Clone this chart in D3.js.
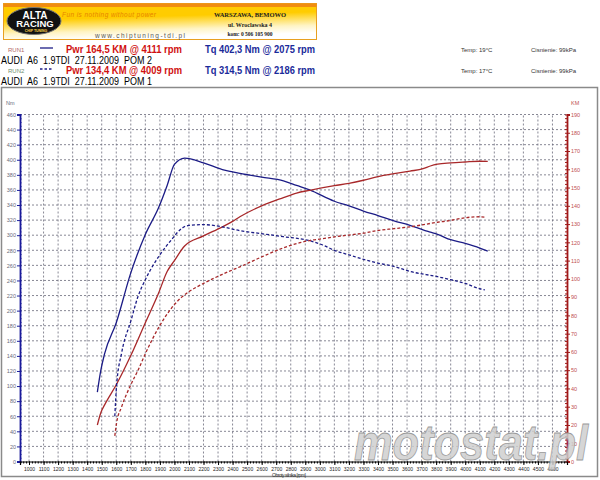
<!DOCTYPE html>
<html>
<head>
	<title>Hamownia AUDI A6 1.9TDI</title>
	<meta charset="utf-8">
	<script src="https://cdnjs.cloudflare.com/ajax/libs/d3/7.8.5/d3.min.js"></script>
	<style>
		body { margin: 0; background: #fff; }
		text { font-family: "Liberation Sans", Arial, sans-serif; white-space: pre; }
	</style>
</head>
<body>
	<script type="text/javascript">

		// RUN1 - POM 2 (solid)
		let rpm1 = [1470, 1495, 1520, 1600, 1700, 1800, 1890, 1950, 2000, 2070, 2200, 2330, 2400, 2450, 2600, 2750, 2840, 2930, 3100, 3200, 3300, 3400, 3510, 3620, 3710, 3760, 3810, 3900, 4000, 4100, 4155];
		let tq1 = [92, 122, 143, 184, 250, 301, 336, 366, 394, 402.3, 396, 387, 384, 382, 377, 372, 366, 360, 345, 339, 332, 326, 319, 313, 307, 304, 301, 294, 289, 283, 279];
		let pw1 = [20, 27, 31, 42, 58, 76, 92, 104, 110, 118, 123.5, 128.5, 131.5, 134, 140, 144.5, 147, 148.5, 151, 152.3, 154, 156, 157.6, 159, 160.3, 161.8, 162.8, 163.5, 164, 164.4, 164.3];

		// RUN2 - POM 1 (dashed)
		let rpm2 = [1590, 1602, 1637, 1700, 1750, 1800, 1900, 1980, 2050, 2100, 2200, 2330, 2450, 2600, 2750, 2930, 3020, 3100, 3200, 3300, 3400, 3510, 3620, 3810, 3900, 4000, 4100, 4135];
		let tq2 = [60, 100, 144, 186, 219, 241, 274, 294, 309, 313, 314, 311, 306, 302, 298, 292.7, 287, 280, 274, 268, 263, 258.6, 252, 245, 241, 236, 229, 227.5];
		let pw2 = [14, 21, 30, 42, 50, 59, 74.5, 84, 90, 93, 97.5, 102.5, 106.6, 112, 117, 121, 122, 123, 124, 125, 126.5, 127.5, 128.5, 131, 132, 133.5, 134, 133.8];

		// ticks
		let rpmTicks = d3.range(1000, 4601, 100);
		let nmTicks = d3.range(0, 461, 20);
		let kmTicks = d3.range(0, 191, 10);

		// header texts
		let runNames = ['RUN1', 'RUN2'];
		let pwrTexts = ['Pwr 164,5 KM @ 4111 rpm', 'Pwr 134,4 KM @ 4009 rpm'];
		let tqTexts = ['Tq 402,3 Nm @ 2075 rpm', 'Tq 314,5 Nm @ 2186 rpm'];
		let carTexts = ['AUDI  A6  1.9TDI  27.11.2009  POM 2', 'AUDI  A6  1.9TDI  27.11.2009  POM 1'];
		let tempTexts = ['Temp: 19\u00b0C', 'Temp: 17\u00b0C'];
		let pressTexts = ['Cisnienie: 99kPa', 'Cisnienie: 99kPa'];

		let blue = '#1c1c86';
		let red = '#a8282a';

		let svg = d3.select('body').append('svg');
		svg.attr('width', 600);
		svg.attr('height', 480);

		svg.append('rect').attr('width', 600).attr('height', 480).attr('fill', '#fff');

		// banner
		let defs = svg.append('defs');
		let grad = defs.append('linearGradient').attr('id', 'ban').attr('x1', 0).attr('y1', 0).attr('x2', 0.25).attr('y2', 1);
		grad.append('stop').attr('offset', '0%').attr('stop-color', '#ffcc00');
		grad.append('stop').attr('offset', '45%').attr('stop-color', '#ffcc00');
		grad.append('stop').attr('offset', '80%').attr('stop-color', '#fff4c4');
		grad.append('stop').attr('offset', '100%').attr('stop-color', '#ffffff');

		svg.append('rect').attr('x', 3.5).attr('y', 3.5).attr('width', 313).attr('height', 36)
			.attr('fill', 'url(#ban)').attr('stroke', '#e8a020').attr('stroke-width', 1);
		svg.append('rect').attr('x', 3.5).attr('y', 3.5).attr('width', 313).attr('height', 3.5)
			.attr('fill', '#f08c10');

		svg.append('ellipse').attr('cx', 34).attr('cy', 21).attr('rx', 27).attr('ry', 13.5)
			.attr('fill', '#111').attr('stroke', '#777').attr('stroke-width', 1);
		svg.append('text').attr('x', 35).attr('y', 18.5).attr('text-anchor', 'middle')
			.attr('font-size', 10).attr('font-weight', 'bold').attr('fill', '#fff').text('ALTA');
		svg.append('text').attr('x', 35).attr('y', 27).attr('text-anchor', 'middle')
			.attr('font-size', 9.5).attr('font-weight', 'bold').attr('fill', '#fff').text('RACING');
		svg.append('text').attr('x', 36).attr('y', 32).attr('text-anchor', 'middle')
			.attr('font-size', 3.5).attr('font-weight', 'bold').attr('fill', '#ffd24a').text('CHIP TUNING');

		svg.append('text').attr('x', 62).attr('y', 17).attr('font-size', 6.5).attr('font-style', 'italic')
			.attr('fill', '#e88400').attr('textLength', 94).text('Fun is nothing without power');
		svg.append('text').attr('x', 95).attr('y', 38).attr('font-size', 6.5).attr('fill', '#555')
			.attr('textLength', 90).text('www.chiptuning-tdi.pl');

		svg.append('text').attr('x', 250).attr('y', 17).attr('text-anchor', 'middle')
			.style('font-family', '"Liberation Serif", serif').attr('font-weight', 'bold')
			.attr('font-size', 6.5).attr('fill', '#222').text('WARSZAWA, BEMOWO');
		svg.append('text').attr('x', 250).attr('y', 27).attr('text-anchor', 'middle')
			.style('font-family', '"Liberation Serif", serif').attr('font-weight', 'bold')
			.attr('font-size', 6).attr('fill', '#222').text('ul. Wroclawska 4');
		svg.append('text').attr('x', 250).attr('y', 36).attr('text-anchor', 'middle')
			.style('font-family', '"Liberation Serif", serif').attr('font-weight', 'bold')
			.attr('font-size', 5.5).attr('fill', '#222').text('kom: 0 506 105 900');

		// run rows
		let rowY = [53, 74];
		runNames.forEach(function(name, i) {
			let y = rowY[i];
			svg.append('text').attr('x', 8).attr('y', y - 1).attr('font-size', 6)
				.attr('fill', i == 0 ? '#b06868' : '#6e8e6e').text(name);
			svg.append('line').attr('x1', 40).attr('x2', 53).attr('y1', y - 5).attr('y2', y - 5)
				.attr('stroke', blue).attr('stroke-width', 1.3)
				.attr('stroke-dasharray', i == 0 ? null : '2.5,2');
			svg.append('text').attr('x', 66).attr('y', y).attr('font-size', 10.5).attr('font-weight', 'bold')
				.attr('fill', '#d01010').attr('textLength', 116).attr('lengthAdjust', 'spacingAndGlyphs').text(pwrTexts[i]);
			svg.append('text').attr('x', 205).attr('y', y).attr('font-size', 10.5).attr('font-weight', 'bold')
				.attr('fill', '#1a2a9a').attr('textLength', 110).attr('lengthAdjust', 'spacingAndGlyphs').text(tqTexts[i]);
			svg.append('text').attr('x', 1).attr('y', y + 11).attr('font-size', 10.5)
				.attr('fill', '#000').attr('textLength', 151).attr('lengthAdjust', 'spacingAndGlyphs').text(carTexts[i]);
			svg.append('text').attr('x', 461).attr('y', y - 1).attr('font-size', 6)
				.attr('fill', '#333').text(tempTexts[i]);
			svg.append('text').attr('x', 531).attr('y', y - 1).attr('font-size', 6)
				.attr('fill', '#333').text(pressTexts[i]);
		});

		// chart frame
		svg.append('rect').attr('x', 1.5).attr('y', 87.5).attr('width', 596).attr('height', 389)
			.attr('fill', '#fff').attr('stroke', '#8a8a8a').attr('stroke-width', 1.5);

		// scales
		let x = d3.scaleLinear().domain([938, 4700]).range([20, 567]);
		let yNm = d3.scaleLinear().domain([0, 460]).range([461.5, 114.5]);
		let yKm = d3.scaleLinear().domain([0, 190]).range([461.5, 114.5]);

		// grid
		let grid = svg.append('g').attr('stroke', '#6a6a7a').attr('stroke-width', 0.8).attr('stroke-dasharray', '2,2');
		grid.selectAll('.gx').data(rpmTicks).enter().append('line')
			.attr('x1', d => x(d)).attr('x2', d => x(d))
			.attr('y1', 461.5).attr('y2', 114.5);
		grid.selectAll('.gy').data(nmTicks.slice(1)).enter().append('line')
			.attr('x1', 20).attr('x2', 567)
			.attr('y1', d => yNm(d)).attr('y2', d => yNm(d));

		// left axis Nm
		let axL = svg.append('g').attr('transform', 'translate(20,0)')
			.call(d3.axisLeft(yNm).tickValues(nmTicks).tickSize(3).tickPadding(1));
		axL.select('.domain').attr('stroke', '#1a1a9a').attr('stroke-width', 1.8);
		axL.selectAll('.tick line').attr('stroke', '#1a1a9a');
		axL.selectAll('text').attr('font-size', 5.5).attr('fill', '#6a6a7a');
		svg.append('g').attr('transform', 'translate(20,0)')
			.call(d3.axisRight(yNm).tickValues(d3.range(0, 461, 5)).tickSize(1.5).tickFormat(''))
			.call(g => g.select('.domain').remove())
			.selectAll('line').attr('stroke', '#1a1a9a');
		svg.append('text').attr('x', 6).attr('y', 105).attr('font-size', 5.5).attr('fill', '#6a6a7a').text('Nm');

		// right axis KM
		let axR = svg.append('g').attr('transform', 'translate(567,0)')
			.call(d3.axisRight(yKm).tickValues(kmTicks).tickSize(3).tickPadding(1));
		axR.select('.domain').attr('stroke', '#a01818').attr('stroke-width', 1.8);
		axR.selectAll('.tick line').attr('stroke', '#a01818');
		axR.selectAll('text').attr('font-size', 5.5).attr('fill', '#c05050');
		svg.append('g').attr('transform', 'translate(567,0)')
			.call(d3.axisLeft(yKm).tickValues(d3.range(0, 191, 2)).tickSize(2).tickFormat(''))
			.call(g => g.select('.domain').remove())
			.selectAll('line').attr('stroke', '#a01818');
		svg.append('text').attr('x', 571).attr('y', 105).attr('font-size', 5.5).attr('fill', '#c05050').text('KM');

		// bottom axis rpm
		let axB = svg.append('g').attr('transform', 'translate(0,461.5)')
			.call(d3.axisBottom(x).tickValues(rpmTicks).tickFormat(d3.format('d')).tickSize(3.5).tickPadding(2));
		axB.select('.domain').attr('stroke', '#000').attr('stroke-width', 1.2);
		axB.selectAll('text').attr('font-size', 5).attr('fill', '#222');
		svg.append('g').attr('transform', 'translate(0,461.5)')
			.call(d3.axisBottom(x).tickValues(d3.range(940, 4700, 20)).tickSize(2).tickFormat(''))
			.call(g => g.select('.domain').remove());
		svg.append('text').attr('x', 272).attr('y', 476.5).attr('font-size', 5).attr('fill', '#333')
			.attr('textLength', 34).text('Obroty silnika [rpm]');

		// curves
		function drawCurve(rpm, vals, scale, color, dash) {
			let line = d3.line()
				.x((d, i) => x(rpm[i]))
				.y(d => scale(d))
				.curve(d3.curveMonotoneX);
			svg.append('path').datum(vals)
				.attr('d', line)
				.attr('fill', 'none')
				.attr('stroke', color)
				.attr('stroke-width', 1.3)
				.attr('stroke-dasharray', dash);
		}

		drawCurve(rpm1, tq1, yNm, blue, null);
		drawCurve(rpm1, pw1, yKm, red, null);
		drawCurve(rpm2, tq2, yNm, blue, '3,2');
		drawCurve(rpm2, pw2, yKm, red, '3,2');

		// watermark
		svg.append('text').attr('x', 354).attr('y', 460).attr('font-size', 50)
			.attr('font-weight', 'bold').attr('font-style', 'italic')
			.attr('textLength', 234).attr('lengthAdjust', 'spacingAndGlyphs')
			.attr('fill', '#cfcfcf').attr('fill-opacity', 0.85)
			.attr('stroke', '#9a9a9a').attr('stroke-width', 0.8)
			.text('motostat.pl');

	</script>
</body>
</html>
